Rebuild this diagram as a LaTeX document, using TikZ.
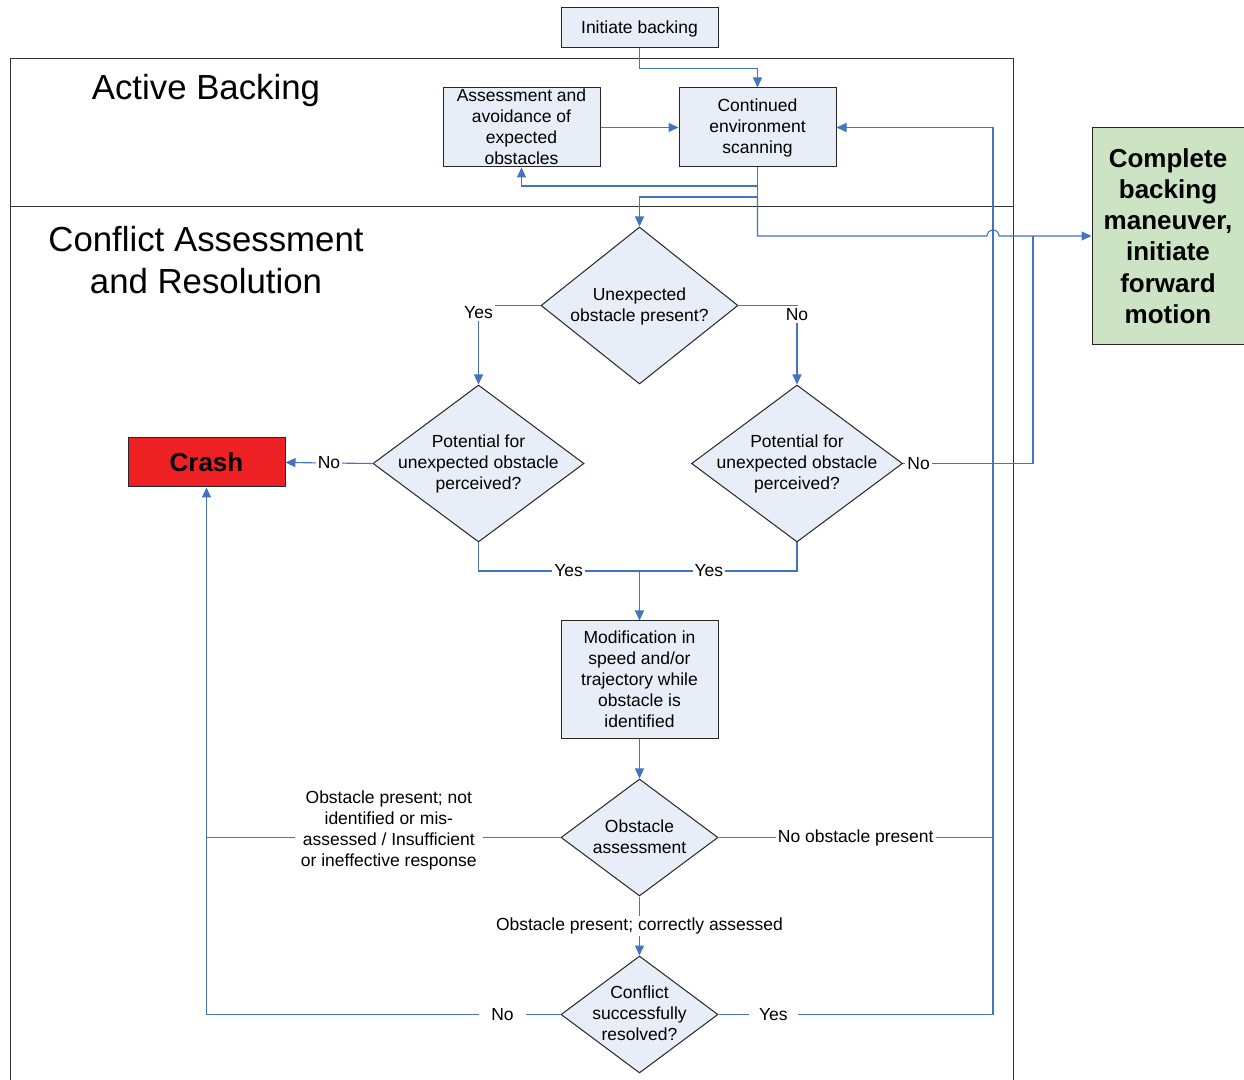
\documentclass[tikz,border=0pt]{standalone}
\usepackage{fontspec}
\setmainfont{Liberation Sans}
\usetikzlibrary{shapes.geometric,arrows.meta}
\definecolor{lineblue}{RGB}{68,114,196}
\definecolor{boxfill}{RGB}{232,238,247}
\definecolor{greenfill}{RGB}{204,228,196}
\definecolor{crashred}{RGB}{237,32,36}
\newcommand\ctext[2][2.8pt]{\smash{\makebox[0pt]{\raisebox{-#1}{\begin{tabular}{@{}c@{}}#2\end{tabular}}}}}
\begin{document}
\begin{tikzpicture}[x=0.5pt,y=-0.5pt,
  every node/.style={font=\fontsize{8.75}{10.5}\selectfont},
  box/.style={draw=black!85,fill=boxfill,line width=0.5pt,inner sep=0pt,rectangle},
  dia/.style={draw=black!85,fill=boxfill,line width=0.5pt,inner sep=0pt,diamond},
  conn/.style={draw=lineblue,line width=0.55pt},
  arr/.style={conn,-{Triangle[length=5pt,width=4.5pt]}},
  lbl/.style={fill=white,inner sep=1pt},
  frame/.style={draw=black!80,line width=0.5pt},
  bigfont/.style={font=\fontsize{13}{15.6}\selectfont\bfseries}]
\useasboundingbox[fill=white] (0,0) rectangle (1244,1080);

% frame
\draw[frame] (10,1085) -- (10,59) -- (1013,59) -- (1013,1085);
\draw[frame] (10,207) -- (1013,207);
\node[font=\fontsize{17.4}{21}\selectfont] (t1) at (206,91) {Active Backing};
\node[font=\fontsize{17.4}{21}\selectfont,align=center] (t2) at (206,260) {Conflict Assessment\\and Resolution};

% nodes
\node[box,minimum width=78.5pt,minimum height=20pt] (init) at (639.5,28) {\ctext{Initiate backing}};
\node[box,minimum width=78.5pt,minimum height=39.5pt] (assess) at (521.5,127.5) {\ctext{Assessment and\\avoidance of\\expected\\obstacles}};
\node[box,minimum width=78.5pt,minimum height=39.5pt] (scan) at (757.5,127.5) {\ctext{Continued\\environment\\scanning}};
\node[box,fill=greenfill,bigfont,minimum width=76pt,minimum height=108.5pt] (complete) at (1168,236) {\ctext[4.5pt]{Complete\\backing\\maneuver,\\initiate\\forward\\motion}};
\node[dia,minimum width=98.5pt,minimum height=78.5pt] (d1) at (639.5,305.5) {\ctext{Unexpected\\obstacle present?}};
\node[dia,minimum width=105.5pt,minimum height=78.5pt] (d2) at (478.5,463.5) {\ctext{Potential for\\unexpected obstacle\\perceived?}};
\node[dia,minimum width=105.5pt,minimum height=78.5pt] (d3) at (797,463.5) {\ctext{Potential for\\unexpected obstacle\\perceived?}};
\node[box,fill=crashred,bigfont,minimum width=78.5pt,minimum height=24.5pt] (crash) at (206.5,462.5) {\ctext[4.5pt]{Crash}};
\node[box,minimum width=78.5pt,minimum height=59pt] (mod) at (639.5,680) {\ctext{Modification in\\speed and/or\\trajectory while\\obstacle is\\identified}};
\node[dia,minimum width=78.5pt,minimum height=58.5pt] (d4) at (639.5,837.5) {\ctext{Obstacle\\assessment}};
\node[dia,minimum width=78.5pt,minimum height=58.5pt] (d5) at (639.5,1014.5) {\ctext{Conflict\\successfully\\resolved?}};

% helper coordinates
\coordinate (j1) at (757.5,186);
\coordinate (j2) at (757.5,197);
\coordinate (j3) at (757.5,236);
\coordinate (hopL) at (987,236);
\coordinate (nR) at (1033,463.5);
\coordinate (nRtop) at (1033,236);
\coordinate (ymid) at (639.5,571);
\coordinate (rloop) at (993,1014.5);
\coordinate (rjoin) at (993,837.5);
\coordinate (lx1) at (206.5,837.5);
\coordinate (lx2) at (206.5,1014.5);

% connectors
\draw[arr] (init.south) -- ++(0,20) -| (scan.north);
\draw[arr] (assess.east) -- (scan.west);
\draw[arr] (scan.south) -- (j1) -| (assess.south);
\draw[arr] (j1) -- (j2) -| (d1.north);
\draw[arr] (j2) -- (j3) -- (hopL) arc[start angle=180,end angle=0,radius=3pt] -- (complete.west);
\draw[conn] (d3.east) -- node[lbl,pos=0.12]{No} (nR) -- (nRtop);
\draw[arr] (d1.west) -| node[lbl,pos=0.5,yshift=-3.5pt]{Yes} (d2.north);
\draw[arr] (d1.east) -| node[lbl,pos=0.5,yshift=-4.5pt]{No} (d3.north);
\draw[arr] (d2.west) -- node[lbl]{No} (crash.east);
\draw[conn] (d2.south) |- node[lbl,pos=0.78]{Yes} (ymid);
\draw[conn] (d3.south) |- node[lbl,pos=0.78]{Yes} (ymid);
\draw[arr] (ymid) -- (mod.north);
\draw[arr] (mod.south) -- (d4.north);
\draw[arr] (d4.south) -- node[lbl]{Obstacle present; correctly assessed} (d5.north);
\draw[conn] (d4.east) -- node[lbl]{No obstacle present} (rjoin);
\draw[arr] (d5.east) -- node[lbl,pos=0.2,inner xsep=5pt]{Yes} (rloop) |- (scan.east);
\draw[conn] (d4.west) -- node[lbl,pos=0.485,yshift=3.5pt,align=center,inner xsep=3pt]{Obstacle present; not\\identified or mis-\\assessed / Insufficient\\or ineffective response} (lx1);
\draw[arr] (d5.west) -- node[lbl,pos=0.164,inner xsep=6pt]{No} (lx2) -- (crash.south);
\end{tikzpicture}
\end{document}
